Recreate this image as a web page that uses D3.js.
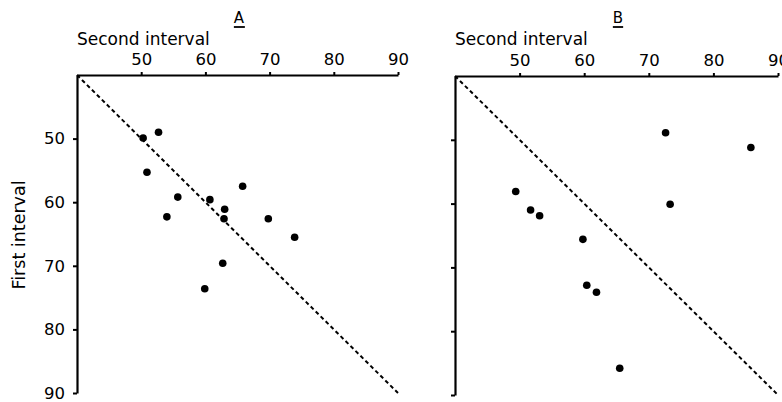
<!DOCTYPE html>
<html>
<head>
<meta charset="utf-8">
<script src="https://cdn.jsdelivr.net/npm/d3@7"></script>
<style>
  body { margin: 0; background: #fff; }
  svg { display: block; }
  text { font-family: "DejaVu Sans", sans-serif; fill: #000; }
</style>
</head>
<body>
<script>
// values (intervals, same units on both axes)
var ticks = [50, 60, 70, 80, 90]
var domainMin = 40, domainMax = 90

var aSecond = [50.3, 52.7, 50.9, 55.7, 54.0, 60.7, 63.0, 62.9, 65.8, 69.8, 73.9, 62.7, 59.9]
var aFirst  = [49.9, 49.0, 55.3, 59.2, 62.3, 59.6, 61.1, 62.6, 57.5, 62.6, 65.5, 69.6, 73.6]

var bSecond = [72.6, 85.8, 49.4, 51.7, 53.1, 73.3, 59.8, 60.4, 61.9, 65.5]
var bFirst  = [48.9, 51.2, 58.1, 61.0, 61.9, 60.1, 65.6, 72.8, 73.9, 85.8]

var svg = d3.select("body").append("svg")
    .attr("width", 782)
    .attr("height", 402)

function drawPanel(p){
    var x = d3.scaleLinear().domain([domainMin, domainMax]).range([p.left, p.right])
    var y = d3.scaleLinear().domain([domainMin, domainMax]).range([p.top, p.bottom])
    var g = svg.append("g")

    // x axis on top
    var xa = g.append("g")
        .attr("transform", "translate(0," + p.top + ")")
        .call(d3.axisTop(x).tickValues(ticks).tickSize(3).tickPadding(7).tickSizeOuter(0))
    xa.select(".domain").attr("stroke-width", 2)
    xa.selectAll(".tick line").attr("stroke-width", 2)
    xa.selectAll(".tick text").style("font-size", "16.5px").attr("fill", "#000")

    // y axis on left (tick labels only on A)
    var ya = g.append("g")
        .attr("transform", "translate(" + p.left + ",0)")
        .call(d3.axisLeft(y).tickValues(ticks).tickSize(4).tickPadding(8).tickSizeOuter(0)
            .tickFormat(p.yLabels ? d3.format("d") : ""))
    ya.select(".domain").attr("stroke-width", 2.2)
    ya.selectAll(".tick line").attr("stroke-width", 2)
    ya.selectAll(".tick text").style("font-size", "16.5px").attr("fill", "#000")

    // line of equality
    g.append("line")
        .attr("x1", x(domainMin)).attr("y1", y(domainMin))
        .attr("x2", x(domainMax)).attr("y2", y(domainMax))
        .attr("stroke", "#000")
        .attr("stroke-width", 2)
        .attr("stroke-dasharray", "4,3")

    g.selectAll(".dot")
        .data(p.second.map((d, i) => ({s: d, f: p.first[i]})))
        .enter().append("circle")
        .attr("class", "dot")
        .attr("cx", d => x(d.s))
        .attr("cy", d => y(d.f))
        .attr("r", 3.8)
        .attr("fill", "#000")

    g.append("text")
        .attr("x", p.left)
        .attr("y", 45)
        .style("font-size", "17px")
        .text("Second interval")

    var t = g.append("text")
        .attr("x", p.letterX)
        .attr("y", 23)
        .attr("text-anchor", "middle")
        .style("font-size", "15px")
        .text(p.letter)
    var bb = t.node().getBBox()
    g.append("line")
        .attr("x1", bb.x).attr("x2", bb.x + bb.width)
        .attr("y1", 27).attr("y2", 27)
        .attr("stroke", "#000").attr("stroke-width", 1.8)
}

drawPanel({left: 77, right: 398, top: 75, bottom: 393, second: aSecond, first: aFirst,
           yLabels: true, letter: "A", letterX: 239})
drawPanel({left: 455, right: 778, top: 76, bottom: 395, second: bSecond, first: bFirst,
           yLabels: false, letter: "B", letterX: 618})

svg.append("text")
    .attr("transform", "translate(25,235) rotate(-90)")
    .attr("text-anchor", "middle")
    .style("font-size", "17.5px")
    .text("First interval")
</script>
</body>
</html>
